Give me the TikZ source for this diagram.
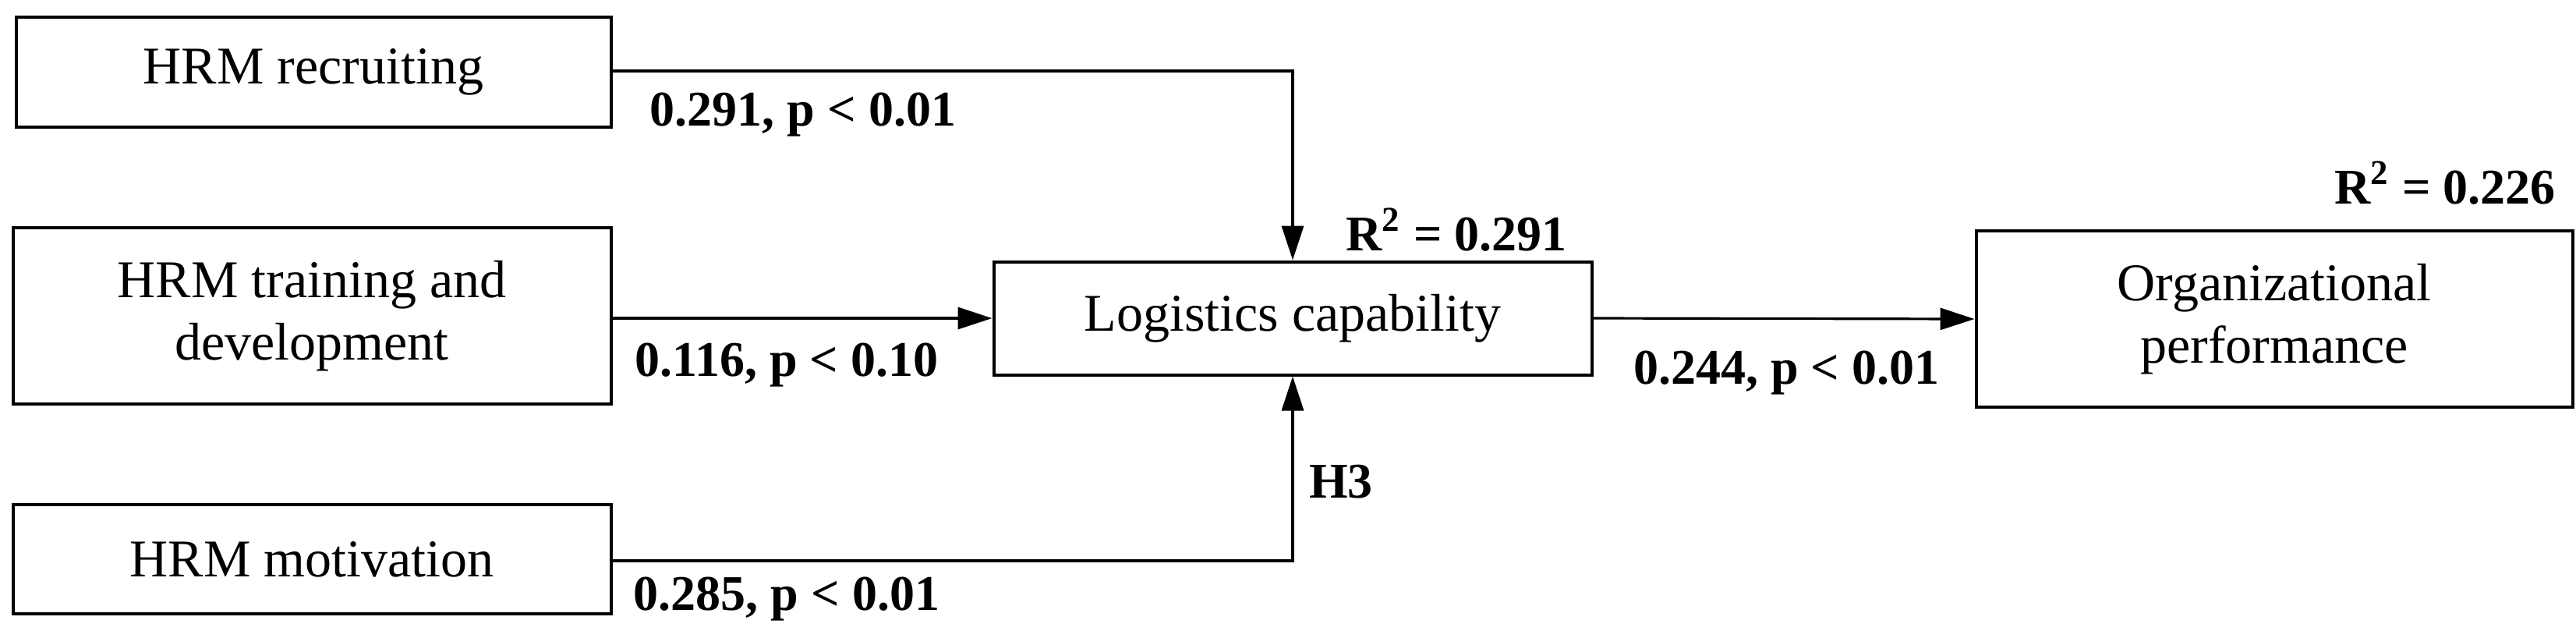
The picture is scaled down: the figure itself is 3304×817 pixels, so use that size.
\documentclass[tikz,border=0pt]{standalone}
\usepackage{fontspec}
\setmainfont{Liberation Serif}
\usetikzlibrary{arrows.meta}
\begin{document}
\begin{tikzpicture}[x=0.25pt,y=-0.25pt,
  box/.style={draw,line width=1pt,align=center,font=\fontsize{17}{20}\selectfont,inner sep=0},
  lab/.style={font=\bfseries\fontsize{16}{19}\selectfont,inner sep=0},
  arr/.style={line width=0.8pt,-{Triangle[length=11pt,width=7pt]}}]
\useasboundingbox (0,0) rectangle (3304,817);
\node[box,minimum width=190.75pt,minimum height=35.25pt] (rec) at (402,92) {HRM recruiting};
\node[box,minimum width=191.75pt,minimum height=56.5pt] (tra) at (400,405) {HRM training and\\development};
\node[box,minimum width=191.75pt,minimum height=35pt] (mot) at (400,717) {HRM motivation};
\node[box,minimum width=191.75pt,minimum height=36.25pt] (log) at (1658,408) {Logistics capability};
\node[box,minimum width=191.25pt,minimum height=56.5pt] (org) at (2917,409) {Organizational\\performance};
\coordinate (c1) at (1658,91);
\coordinate (c2) at (1658,719);
\draw[arr] (rec.east |- c1) -- (c1) -- (log.north);
\draw[arr] (tra.east |- log.west) -- (log.west);
\draw[arr] (mot.east |- c2) -- (c2) -- (log.south);
\draw[arr] (log.east) -- (org.west);
\node[lab] (l1) at (1030,147) {0.291, p < 0.01};
\node[lab] (l2) at (1009,468) {0.116, p < 0.10};
\node[lab] (l3) at (1009,768) {0.285, p < 0.01};
\node[lab] (l4) at (2291,478) {0.244, p < 0.01};
\node[lab] (r1) at (1868,295) {R\textsuperscript{2} = 0.291};
\node[lab] (r2) at (3136,235) {R\textsuperscript{2} = 0.226};
\node[lab] (h3) at (1720,618) {H3};
\end{tikzpicture}
\end{document}
